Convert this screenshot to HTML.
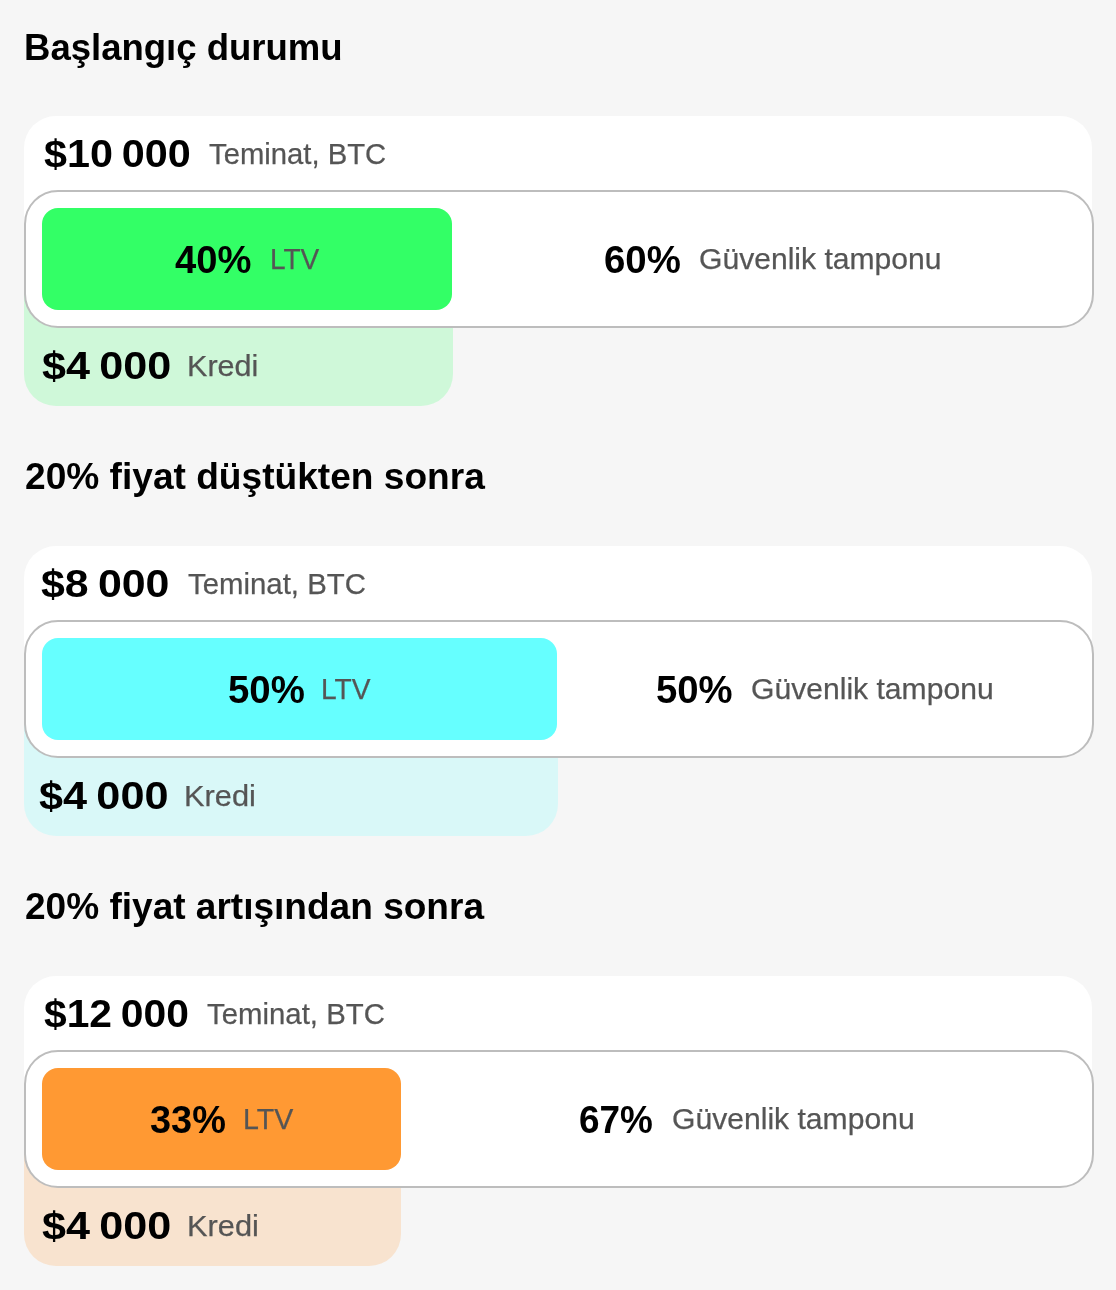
<!DOCTYPE html>
<html lang="tr">
<head>
<meta charset="utf-8">
<title>LTV</title>
<style>
html,body{margin:0;padding:0}
body{width:1116px;height:1290px;background:#f6f6f6;position:relative;overflow:hidden;font-family:"Liberation Sans",Arial,sans-serif;color:#000}
.section{position:absolute;left:0;width:1116px;height:430px}
.card{position:absolute;left:24px;top:116px;width:1068px;height:180px;background:#fff;border-radius:32px 32px 0 0}
.loan{position:absolute;left:24px;top:290px;height:116px;border-radius:0 0 32px 32px}
.box{position:absolute;left:24px;top:190px;width:1066px;height:134px;border:2px solid #bdbdbd;border-radius:34px;background:#fff}
.bar{position:absolute;left:42px;top:208px;height:102px;border-radius:16px}
.t{position:absolute;white-space:nowrap;line-height:0;transform-origin:0 0;margin:0;font-weight:normal}
.h{font-weight:bold;font-size:37.2px;color:#000}
.b{font-weight:bold;font-size:39.0px;color:#000}
.m{word-spacing:-2.5px}
.r{font-size:30.3px;color:#555;-webkit-text-stroke:0.25px #555}
</style>
</head>
<body>
<section class="section" style="top:0px">
<h2 class="t h" style="left:23.84px;top:46.61px;transform:scaleX(0.9822)">Başlangıç durumu</h2>
<div class="card"></div>
<div class="loan" style="width:429.0px;background:#cff8d9"></div>
<div class="box"></div>
<div class="bar" style="width:410.3px;background:#33ff66"></div>
<span class="t b m" style="left:44.00px;top:154.49px;transform:scaleX(1.0596)">$10 000</span>
<span class="t r" style="left:209.20px;top:153.50px;transform:scaleX(0.9659)">Teminat, BTC</span>
<span class="t b" style="left:174.50px;top:259.79px;transform:scaleX(0.9783)">40%</span>
<span class="t r" style="left:269.95px;top:258.80px;transform:scaleX(0.9250)">LTV</span>
<span class="t b" style="left:603.52px;top:259.79px;transform:scaleX(0.9846)">60%</span>
<span class="t r" style="left:698.71px;top:258.80px;transform:scaleX(0.9932)">Güvenlik tamponu</span>
<span class="t b m" style="left:42.30px;top:366.49px;transform:scaleX(1.1060)">$4 000</span>
<span class="t r" style="left:187.38px;top:365.50px;transform:scaleX(1.0090)">Kredi</span>
</section>
<section class="section" style="top:430px">
<h2 class="t h" style="left:24.70px;top:45.91px;transform:scaleX(0.9979)">20% fiyat düştükten sonra</h2>
<div class="card"></div>
<div class="loan" style="width:533.9px;background:#d9f8f8"></div>
<div class="box"></div>
<div class="bar" style="width:515.2px;background:#66ffff"></div>
<span class="t b m" style="left:41.10px;top:154.49px;transform:scaleX(1.1000)">$8 000</span>
<span class="t r" style="left:187.50px;top:153.50px;transform:scaleX(0.9697)">Teminat, BTC</span>
<span class="t b" style="left:227.72px;top:259.79px;transform:scaleX(0.9846)">50%</span>
<span class="t r" style="left:321.04px;top:258.80px;transform:scaleX(0.9289)">LTV</span>
<span class="t b" style="left:656.22px;top:259.79px;transform:scaleX(0.9819)">50%</span>
<span class="t r" style="left:750.71px;top:258.80px;transform:scaleX(0.9936)">Güvenlik tamponu</span>
<span class="t b m" style="left:38.70px;top:366.49px;transform:scaleX(1.1086)">$4 000</span>
<span class="t r" style="left:184.17px;top:365.50px;transform:scaleX(1.0165)">Kredi</span>
</section>
<section class="section" style="top:860px">
<h2 class="t h" style="left:24.70px;top:45.91px;transform:scaleX(0.9959)">20% fiyat artışından sonra</h2>
<div class="card"></div>
<div class="loan" style="width:377.3px;background:#f8e3cf"></div>
<div class="box"></div>
<div class="bar" style="width:358.6px;background:#ff9933"></div>
<span class="t b m" style="left:43.80px;top:154.49px;transform:scaleX(1.0458)">$12 000</span>
<span class="t r" style="left:206.60px;top:153.50px;transform:scaleX(0.9692)">Teminat, BTC</span>
<span class="t b" style="left:150.20px;top:259.79px;transform:scaleX(0.9718)">33%</span>
<span class="t r" style="left:242.52px;top:258.80px;transform:scaleX(0.9423)">LTV</span>
<span class="t b" style="left:578.95px;top:259.79px;transform:scaleX(0.9466)">67%</span>
<span class="t r" style="left:671.71px;top:258.80px;transform:scaleX(0.9936)">Güvenlik tamponu</span>
<span class="t b m" style="left:42.10px;top:366.49px;transform:scaleX(1.1060)">$4 000</span>
<span class="t r" style="left:187.17px;top:365.50px;transform:scaleX(1.0165)">Kredi</span>
</section>
</body>
</html>
